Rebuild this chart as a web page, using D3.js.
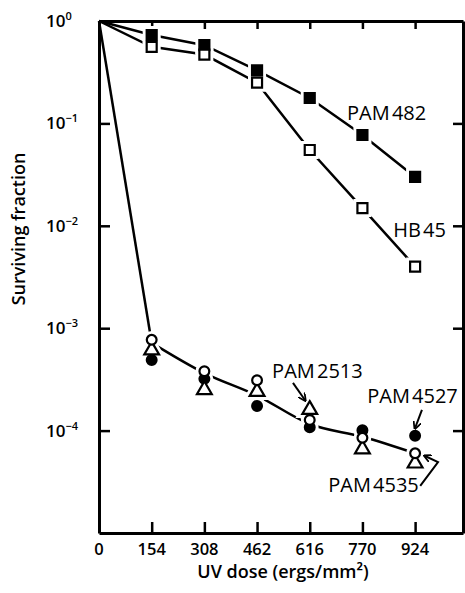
<html>
<head>
<script src="https://d3js.org/d3.v7.min.js"></script>
<style>
  body { margin: 0; background: #fff; }
  text { font-family: "Open Sans", sans-serif; fill: #000; }
</style>
</head>
<body>
<svg id="chart" width="465" height="593"></svg>
<script>
// doses (ergs/mm2)
var doses = [0, 154, 308, 462, 616, 770, 924];
var xTicks = [0, 154, 308, 462, 616, 770, 924];
var yTicks = [1, 1e-1, 1e-2, 1e-3, 1e-4];
var yExp = ["0", "\u22121", "\u22122", "\u22123", "\u22124"];

// surviving fraction
var pam482 = [1, 0.73, 0.58, 0.33, 0.177, 0.077, 0.030];
var hb45 = [1, 0.56, 0.47, 0.25, 0.055, 0.0149, 0.0040];
var openCircles = [null, 7.7e-4, 3.8e-4, 3.1e-4, 1.27e-4, 8.5e-5, 6.0e-5];
var filledCircles = [null, 4.9e-4, 3.2e-4, 1.74e-4, 1.08e-4, 1.01e-4, 8.9e-5];
var triangles = [null, 6.1e-4, 2.5e-4, 2.4e-4, 1.6e-4, 6.6e-5, 4.8e-5];
var fitLine = [1, 7.2e-4, 3.65e-4, 2.2e-4, 1.16e-4, 8.7e-5, 6.0e-5];

var svg = d3.select("#chart");
var pL = 99, pR = 463, pT = 21, pB = 533;

var x = d3.scaleLinear().domain([0, 1064]).range([pL, pR]);
var y = d3.scaleLog().domain([1e-5, 1]).range([pB, pT]);

function pts(vals) {
  return doses.map(function(d, i) { return {x: d, y: vals[i]}; })
    .filter(function(d) { return d.y != null; });
}

// frame + ticks
function styleAxis(g) {
  g.selectAll("path.domain").attr("stroke-width", 3);
  g.selectAll(".tick line").attr("stroke-width", 2.5);
}
svg.append("g").attr("transform", "translate(0," + pB + ")")
  .call(d3.axisBottom(x).tickValues(xTicks.slice(1)).tickSize(-11).tickSizeOuter(0).tickFormat(""))
  .call(styleAxis);
svg.append("g").attr("transform", "translate(0," + pT + ")")
  .call(d3.axisTop(x).tickValues(xTicks.slice(1)).tickSize(-8).tickSizeOuter(0).tickFormat(""))
  .call(styleAxis);
svg.append("g").attr("transform", "translate(" + pL + ",0)")
  .call(d3.axisLeft(y).tickValues(yTicks.slice(1)).tickSize(-11).tickSizeOuter(0).tickFormat(""))
  .call(styleAxis);
svg.append("g").attr("transform", "translate(" + pR + ",0)")
  .call(d3.axisRight(y).tickValues(yTicks.slice(1)).tickSize(-10).tickSizeOuter(0).tickFormat(""))
  .call(styleAxis);

// tick labels
svg.selectAll(".xlab").data(xTicks).enter().append("text")
  .attr("x", function(d) { return x(d); })
  .attr("y", pB + 22)
  .attr("text-anchor", "middle")
  .style("font-size", "16.5px").style("font-weight", 600)
  .text(function(d) { return d; });

var yl = svg.selectAll(".ylab").data(yTicks).enter().append("text")
  .attr("x", 46)
  .attr("y", function(d) { return y(d) + 6; })
  .style("font-size", "17px").style("font-weight", 600);
yl.append("tspan").text("10");
yl.append("tspan").attr("dy", -7).style("font-size", "11px")
  .text(function(d, i) { return yExp[i]; });

// axis titles
svg.append("text").attr("x", 283).attr("y", 578).attr("text-anchor", "middle")
  .style("font-size", "18px").style("font-weight", 600)
  .text("UV dose (ergs/mm\u00b2)");
svg.append("text").attr("transform", "translate(25,229) rotate(-90)")
  .attr("text-anchor", "middle")
  .style("font-size", "18px").style("font-weight", 600)
  .text("Surviving fraction");

// lines
var line = d3.line().x(function(d) { return x(d.x); }).y(function(d) { return y(d.y); });
var curve = d3.line().x(function(d) { return x(d.x); }).y(function(d) { return y(d.y); })
  .curve(d3.curveMonotoneX);

svg.append("path").datum(pts(pam482)).attr("d", line)
  .attr("fill", "none").attr("stroke", "#000").attr("stroke-width", 2.5);
svg.append("path").datum(pts(hb45)).attr("d", line)
  .attr("fill", "none").attr("stroke", "#000").attr("stroke-width", 2.5);
// steep straight drop, then a smooth curve through the low points
svg.append("path").datum(pts(fitLine).slice(0, 2)).attr("d", line)
  .attr("fill", "none").attr("stroke", "#000").attr("stroke-width", 2.5);
svg.append("path").datum(pts(fitLine).slice(1)).attr("d", curve)
  .attr("fill", "none").attr("stroke", "#000").attr("stroke-width", 2.5);

// markers
var sq = d3.symbol().type(d3.symbolSquare).size(100);
var circ = d3.symbol().type(d3.symbolCircle).size(75);
var tri = d3.symbol().type(d3.symbolTriangle).size(95);

var series = [
  {data: pts(pam482).slice(1), sym: sq, fill: "#000"},
  {data: pts(hb45).slice(1), sym: sq, fill: "#fff"},
  {data: pts(filledCircles), sym: circ, fill: "#000"},
  {data: pts(triangles), sym: tri, fill: "#fff"},
  {data: pts(openCircles), sym: circ, fill: "#fff"}
];

// white halos break the lines around each marker
series.forEach(function(s) {
  svg.append("g").selectAll("path").data(s.data).enter().append("path")
    .attr("transform", function(d) { return "translate(" + x(d.x) + "," + y(d.y) + ")"; })
    .attr("d", s.sym).attr("fill", "#fff").attr("stroke", "#fff").attr("stroke-width", 8);
});
series.forEach(function(s) {
  svg.append("g").selectAll("path").data(s.data).enter().append("path")
    .attr("transform", function(d) { return "translate(" + x(d.x) + "," + y(d.y) + ")"; })
    .attr("d", s.sym).attr("fill", s.fill).attr("stroke", "#000").attr("stroke-width", 2.2);
});

// labels (positions in data units)
var labels = [
  {t: "PAM 482", x: 725, y: 0.108},
  {t: "HB 45", x: 860, y: 0.0078},
  {t: "PAM 2513", x: 506, y: 3.27e-4},
  {t: "PAM 4527", x: 784, y: 1.86e-4},
  {t: "PAM 4535", x: 670, y: 2.51e-5}
];
svg.selectAll(".lab").data(labels).enter().append("text")
  .attr("x", function(d) { return x(d.x); })
  .attr("y", function(d) { return y(d.y); })
  .style("font-size", "20px")
  .style("word-spacing", "-3px")
  .text(function(d) { return d.t; });

// arrows
svg.append("defs").append("marker").attr("id", "ah")
  .attr("viewBox", "0 0 10 10").attr("refX", 8).attr("refY", 5)
  .attr("markerWidth", 4).attr("markerHeight", 4).attr("orient", "auto")
  .append("path").attr("d", "M0,0 L10,5 L0,10").attr("fill", "none")
  .attr("stroke", "#000").attr("stroke-width", 2.2);

var arrows = [
  [[567, 2.92e-4], [602, 1.99e-4]],
  [[944, 1.59e-4], [924, 1.06e-4]],
  [[939, 2.88e-5], [991, 4.93e-5], [953, 5.65e-5]]
];
svg.selectAll(".arr").data(arrows).enter().append("path")
  .attr("d", d3.line().x(function(d) { return x(d[0]); }).y(function(d) { return y(d[1]); }))
  .attr("fill", "none").attr("stroke", "#000").attr("stroke-width", 2)
  .attr("marker-end", "url(#ah)");
</script>
</body>
</html>
